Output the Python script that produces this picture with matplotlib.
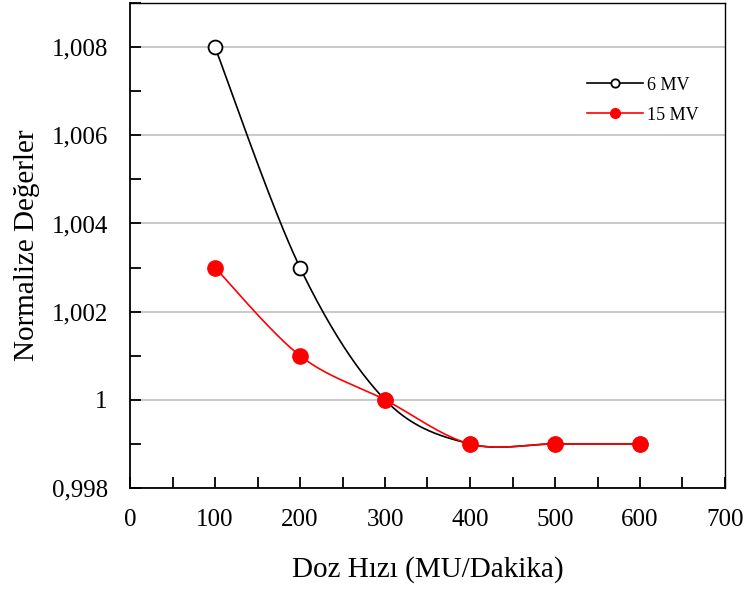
import numpy as np
import matplotlib
matplotlib.use("Agg")
import matplotlib.pyplot as plt
from matplotlib.ticker import MultipleLocator, FuncFormatter

dose_rate = [100, 200, 300, 400, 500, 600]
mv6 = [1.008, 1.003, 1.000, 0.999, 0.999, 0.999]
mv15 = [1.003, 1.001, 1.000, 0.999, 0.999, 0.999]
series_labels = ["6 MV", "15 MV"]

plt.rcParams['font.family'] = ['Liberation Serif', 'DejaVu Serif']


def smooth(x, y, n=40):
    x = np.asarray(x, float)
    y = np.asarray(y, float)
    xs, ys = [], []
    m = len(x)
    for i in range(m - 1):
        i0 = max(i - 1, 0)
        i3 = min(i + 2, m - 1)
        p0 = np.array([x[i0], y[i0]])
        p1 = np.array([x[i], y[i]])
        p2 = np.array([x[i + 1], y[i + 1]])
        p3 = np.array([x[i3], y[i3]])
        c1 = p1 + (p2 - p0) / 6.0
        c2 = p2 - (p3 - p1) / 6.0
        t = np.linspace(0, 1, n)[:, None]
        pts = ((1 - t) ** 3) * p1 + 3 * ((1 - t) ** 2) * t * c1 + 3 * (1 - t) * t ** 2 * c2 + t ** 3 * p2
        xs.extend(pts[:, 0])
        ys.extend(pts[:, 1])
    return np.array(xs), np.array(ys)


fig = plt.figure(figsize=(7.44, 5.89), dpi=100)
ax = fig.add_axes([130 / 744, 1 - 488 / 589, 595 / 744, 485 / 589])

sx, sy = smooth(dose_rate, mv6)
ax.plot(sx, sy, color='black', lw=1.2, zorder=3)
ax.plot(dose_rate, mv6, 'o', ms=10, mfc='white', mec='black', mew=1.3, zorder=4)
sx, sy = smooth(dose_rate, mv15)
ax.plot(sx, sy, color='red', lw=1.2, zorder=3)
ax.plot(dose_rate, mv15, 'o', ms=11, mfc='red', mec='red', zorder=5)

# legend proxies
ax.plot([], [], '-o', color='black', mfc='white', mec='black', ms=6, mew=1.3, lw=1.2, label=series_labels[0])
ax.plot([], [], '-o', color='red', mfc='red', mec='red', ms=7, lw=1.2, label=series_labels[1])
h, l = ax.get_legend_handles_labels()
ax.legend(h[-2:], l[-2:], loc='center left', bbox_to_anchor=(0.768, 0.8), frameon=False,
          fontsize=13, handlelength=3.1, labelspacing=0.72, handletextpad=0.25, borderpad=0,
          borderaxespad=0)

ax.set_xlim(0, 700)
ax.set_ylim(0.998, 1.009)
ax.xaxis.set_major_locator(MultipleLocator(100))
ax.xaxis.set_minor_locator(MultipleLocator(50))
ax.yaxis.set_major_locator(MultipleLocator(0.002))
ax.yaxis.set_minor_locator(MultipleLocator(0.001))


def yfmt(v, pos):
    s = ('%.3f' % v).rstrip('0').rstrip('.')
    return s.replace('.', ',')


ax.yaxis.set_major_formatter(FuncFormatter(yfmt))
ax.tick_params(which='both', direction='in', length=8, width=1.3, labelsize=18)
ax.tick_params(axis='y', pad=16)
ax.tick_params(axis='x', pad=15)
ax.grid(axis='y', which='major', color='#c0c0c0', lw=1.2, zorder=0)
ax.set_axisbelow(True)
for sp in ax.spines.values():
    sp.set_linewidth(1.3)
ax.spines['top'].set_linewidth(1.0)
ax.spines['right'].set_linewidth(1.0)

ax.set_xlabel('Doz Hızı (MU/Dakika)', fontsize=21, labelpad=18)
ax.set_ylabel('Normalize Değerler', fontsize=21, labelpad=8)

fig.savefig('out.png', dpi=100)
